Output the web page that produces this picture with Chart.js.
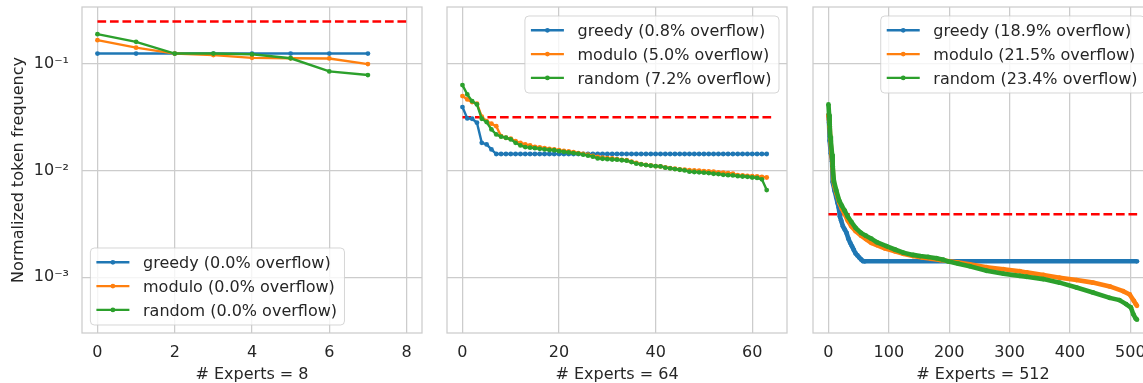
<!DOCTYPE html>
<html>
<head>
<meta charset="utf-8">
<script src="https://cdn.jsdelivr.net/npm/chart.js@4.4.1/dist/chart.umd.min.js"></script>
<style>
  html, body { margin: 0; padding: 0; background: #fff; overflow: hidden; }
  body { width: 1143px; height: 383px; position: relative; }
  canvas { position: absolute; top: 0; }
</style>
</head>
<body>
<canvas id="p8" width="426" height="383" style="left:0px"></canvas>
<canvas id="p64" width="354" height="383" style="left:437px"></canvas>
<canvas id="p512" width="354" height="383" style="left:803px"></canvas>
<script>
// shared log axis
const yMin = 3.04e-4;
const yMax = 0.3416;
const yTickValues = [0.001, 0.01, 0.1];
const yTickLabels = ['10⁻³', '10⁻²', '10⁻¹'];

// 8 experts
const xTicks8 = [0, 2, 4, 6, 8];
const capacity8 = 0.25;
const greedy8 = [0.125, 0.125, 0.125, 0.125, 0.125, 0.125, 0.125, 0.125];
const modulo8 = [0.167, 0.142, 0.125, 0.121, 0.114, 0.113, 0.1125, 0.0996];
const random8 = [0.190, 0.161, 0.125, 0.125, 0.123, 0.113, 0.085, 0.0786];
const names8 = ['greedy (0.0% overflow)', 'modulo (0.0% overflow)', 'random (0.0% overflow)'];

// 64 experts
const xTicks64 = [0, 20, 40, 60];
const capacity64 = 0.0316;
const greedy64 = [0.0394, 0.0308, 0.0306, 0.0281, 0.0182, 0.0176, 0.0158, 0.0143,
  0.0143, 0.0143, 0.0143, 0.0143, 0.0143, 0.0143, 0.0143, 0.0143,
  0.0143, 0.0143, 0.0143, 0.0143, 0.0143, 0.0143, 0.0143, 0.0143,
  0.0143, 0.0143, 0.0143, 0.0143, 0.0143, 0.0143, 0.0143, 0.0143,
  0.0143, 0.0143, 0.0143, 0.0143, 0.0143, 0.0143, 0.0143, 0.0143,
  0.0143, 0.0143, 0.0143, 0.0143, 0.0143, 0.0143, 0.0143, 0.0143,
  0.0143, 0.0143, 0.0143, 0.0143, 0.0143, 0.0143, 0.0143, 0.0143,
  0.0143, 0.0143, 0.0143, 0.0143, 0.0143, 0.0143, 0.0143, 0.0143];
const modulo64 = [0.0499, 0.0465, 0.0439, 0.0424, 0.0320, 0.0291, 0.0275, 0.0261,
  0.0210, 0.0203, 0.0199, 0.0189, 0.0182, 0.0176, 0.0172, 0.0167,
  0.0165, 0.0162, 0.0160, 0.0158, 0.01556, 0.0153, 0.0151, 0.0149,
  0.0146, 0.01435, 0.0141, 0.0137, 0.0134, 0.0132, 0.0131, 0.0130,
  0.0128, 0.0126, 0.0125, 0.0121, 0.0118, 0.0115, 0.0113, 0.0112,
  0.0110, 0.01094, 0.0107, 0.01056, 0.0104, 0.01025, 0.0102, 0.0101,
  0.01004, 0.00997, 0.0099, 0.00984, 0.00977, 0.00963, 0.00955, 0.00948,
  0.00934, 0.00906, 0.0090, 0.00893, 0.00886, 0.0088, 0.00874, 0.00861];
const random64 = [0.0633, 0.0518, 0.0448, 0.0417, 0.0306, 0.0285, 0.0243, 0.0218,
  0.0208, 0.0203, 0.0196, 0.0182, 0.0172, 0.0166, 0.0164, 0.0162,
  0.0160, 0.0158, 0.0156, 0.0155, 0.0152, 0.0150, 0.0148, 0.0146,
  0.0144, 0.0141, 0.0138, 0.0135, 0.0130, 0.0129, 0.0128, 0.0127,
  0.01264, 0.0125, 0.01237, 0.0120, 0.0116, 0.01143, 0.01126, 0.0111,
  0.0110, 0.01094, 0.01064, 0.01048, 0.01033, 0.01018, 0.01004, 0.00977,
  0.0097, 0.00963, 0.00955, 0.00948, 0.00934, 0.00927, 0.00913, 0.00906,
  0.0090, 0.00886, 0.0088, 0.00874, 0.00861, 0.00854, 0.00828, 0.00656];
const names64 = ['greedy (0.8% overflow)', 'modulo (5.0% overflow)', 'random (7.2% overflow)'];

// 512 experts, read at sampled expert indices
const xTicks512 = [0, 100, 200, 300, 400, 500];
const capacity512 = 0.0039;
const greedy512Idx = [0, 1, 2, 4, 6, 7, 8, 10, 13, 15, 17, 19, 21, 24, 27, 30, 33, 36, 39, 42, 45, 48, 51, 54, 57, 60, 511];
const greedy512 = [0.033, 0.028, 0.019, 0.0145, 0.0122, 0.0078, 0.0074, 0.0065, 0.0056, 0.0050, 0.0045, 0.0037, 0.0034,
  0.0030, 0.0028, 0.0026, 0.0023, 0.0021, 0.00195, 0.0018, 0.00167, 0.0016, 0.00153, 0.00147, 0.00142, 0.00141, 0.00141];
const modulo512Idx = [0, 1, 2, 3, 5, 7, 8, 10, 13, 18, 22, 27, 32, 38, 45, 54, 62, 71, 80, 93, 110, 124, 140, 155, 170,
  185, 200, 215, 234, 262, 290, 317, 328, 356, 383, 411, 438, 466, 488, 499, 506, 509, 511];
const modulo512 = [0.033, 0.030, 0.026, 0.020, 0.0145, 0.0108, 0.0082, 0.0072, 0.0062, 0.0050, 0.0044, 0.0039, 0.0034,
  0.0030, 0.0027, 0.00245, 0.00228, 0.0021, 0.0020, 0.00187, 0.00175, 0.00166, 0.00158, 0.00153, 0.00149,
  0.00145, 0.00141, 0.00137, 0.00132, 0.00124, 0.00119, 0.00114, 0.00111, 0.00105, 0.00099, 0.00094, 0.00089,
  0.00082, 0.00074, 0.00069, 0.0006, 0.00056, 0.00054];
const random512Idx = [0, 1, 2, 3, 4, 6, 7, 9, 13, 18, 22, 27, 32, 38, 45, 54, 62, 71, 80, 96, 110, 124, 140, 152, 165,
  179, 190, 198, 215, 234, 262, 290, 317, 328, 356, 383, 411, 438, 466, 482, 493, 501, 505, 509, 511];
const random512 = [0.0417, 0.0336, 0.0271, 0.021, 0.0189, 0.0142, 0.011, 0.008, 0.0065, 0.0052, 0.0047, 0.0042, 0.0037,
  0.0033, 0.0029, 0.0026, 0.00245, 0.0023, 0.00213, 0.00196, 0.00182, 0.0017, 0.00162, 0.00158, 0.00155,
  0.00151, 0.00146, 0.00141, 0.00134, 0.00127, 0.00115, 0.00108, 0.00103, 0.00101, 0.00096, 0.00089, 0.0008,
  0.00072, 0.00064, 0.00061, 0.00056, 0.00052, 0.00045, 0.00041, 0.0004];
const names512 = ['greedy (18.9% overflow)', 'modulo (21.5% overflow)', 'random (23.4% overflow)'];

const BLUE = '#1f77b4', ORANGE = '#ff7f0e', GREEN = '#2ca02c', RED = '#ff0000';
const GRID = '#cccccc';
const TEXT = '#262626';
const FONT = "'DejaVu Sans', sans-serif";

Chart.defaults.font.family = FONT;
Chart.defaults.color = TEXT;

// light grey box around the plot area
const frame = {
  id: 'frame',
  beforeDatasetsDraw(chart) {
    const { ctx, chartArea: a } = chart;
    ctx.save();
    ctx.strokeStyle = GRID;
    ctx.lineWidth = 1.25;
    ctx.strokeRect(a.left, a.top, a.right - a.left, a.bottom - a.top);
    ctx.restore();
  }
};

// legend box drawn inside the plot area
const boxLegend = {
  id: 'boxLegend',
  afterDatasetsDraw(chart, args, opts) {
    const { ctx, chartArea: a } = chart;
    const items = chart.data.datasets.filter(d => d.label);
    ctx.save();
    ctx.font = '16px ' + FONT;
    const textW = Math.max(...items.map(d => ctx.measureText(d.label).width));
    const w = 52.6 + textW + 7.5, h = 77;
    const x = opts.corner === 'lowerLeft' ? a.left + 8.4 : a.right - 8 - w;
    const y = opts.corner === 'lowerLeft' ? a.bottom - 8 - h : a.top + 9;
    ctx.beginPath();
    ctx.roundRect(x, y, w, h, 4);
    ctx.fillStyle = 'rgba(255,255,255,0.8)';
    ctx.fill();
    ctx.strokeStyle = 'rgba(204,204,204,0.8)';
    ctx.lineWidth = 1;
    ctx.stroke();
    items.forEach((d, k) => {
      const ry = y + 14.3 + k * 23.8;
      ctx.strokeStyle = d.borderColor;
      ctx.lineWidth = 2.4;
      ctx.beginPath();
      ctx.moveTo(x + 6, ry);
      ctx.lineTo(x + 39, ry);
      ctx.stroke();
      ctx.fillStyle = d.borderColor;
      ctx.beginPath();
      ctx.arc(x + 22.5, ry, 2.4, 0, Math.PI * 2);
      ctx.fill();
      ctx.fillStyle = TEXT;
      ctx.textBaseline = 'middle';
      ctx.fillText(d.label, x + 52.6, ry + 1.5);
    });
    ctx.restore();
  }
};

function series(label, color, points, order, width) {
  return {
    label, data: points, order,
    borderColor: color, backgroundColor: color,
    borderWidth: width, pointRadius: 2.4, pointBorderWidth: 0,
    pointBackgroundColor: color
  };
}

function capacityLine(value, n) {
  return {
    data: [{ x: 0, y: value }, { x: n, y: value }], order: 4,
    borderColor: RED, borderWidth: 2.4, borderDash: [8.7, 3.8], pointRadius: 0
  };
}

const byIndex = vals => vals.map((y, x) => ({ x, y }));
const byPairs = (idx, vals) => idx.map((x, k) => ({ x, y: vals[k] }));

function makePanel(id, cfg) {
  new Chart(document.getElementById(id), {
    type: 'line',
    data: { datasets: cfg.datasets },
    plugins: [frame, boxLegend],
    options: {
      responsive: false,
      animation: false,
      events: [],
      layout: { padding: { top: 7, right: 4, bottom: 0, left: 0 } },
      plugins: {
        legend: { display: false },
        tooltip: { enabled: false },
        boxLegend: { corner: cfg.corner }
      },
      scales: {
        x: {
          type: 'linear', min: cfg.xMin, max: cfg.xMax,
          afterBuildTicks: s => { s.ticks = cfg.xTicks.map(v => ({ value: v })); },
          afterFit: s => { s.height = 50; s.paddingLeft = 0; s.paddingRight = 0; },
          border: { display: false },
          grid: { color: GRID, lineWidth: 1.25, drawTicks: false },
          ticks: { font: { size: 16 }, color: TEXT, padding: 10, maxRotation: 0, autoSkip: false,
                   callback: v => String(v) },
          title: { display: true, text: cfg.xTitle, color: TEXT,
                   font: { size: 16, lineHeight: 1.0 }, padding: { top: 0, bottom: 0 } }
        },
        y: {
          type: 'logarithmic', min: yMin, max: yMax,
          afterBuildTicks: s => { s.ticks = yTickValues.map(v => ({ value: v })); },
          afterFit: s => { s.width = cfg.yWidth; s.paddingTop = 0; s.paddingBottom = 0; },
          border: { display: false },
          grid: { color: GRID, lineWidth: 1.25, drawTicks: false },
          ticks: { display: cfg.yLabels, font: { size: 16 }, color: TEXT, padding: 13,
                   autoSkip: false, callback: (v, i) => yTickLabels[i] },
          title: { display: cfg.yLabels, text: 'Normalized token frequency', color: TEXT,
                   font: { size: 16, lineHeight: 1.0 }, padding: { top: 10.6, bottom: 0 } }
        }
      }
    }
  });
}

makePanel('p8', {
  xMin: -0.4, xMax: 8.4, xTicks: xTicks8, xTitle: '# Experts = 8',
  yWidth: 82, yLabels: true, corner: 'lowerLeft',
  datasets: [
    series(names8[0], BLUE, byIndex(greedy8), 3, 2.4),
    series(names8[1], ORANGE, byIndex(modulo8), 2, 2.4),
    series(names8[2], GREEN, byIndex(random8), 1, 2.4),
    capacityLine(capacity8, 8)
  ]
});

makePanel('p64', {
  xMin: -3.2, xMax: 67.2, xTicks: xTicks64, xTitle: '# Experts = 64',
  yWidth: 10, yLabels: false, corner: 'upperRight',
  datasets: [
    series(names64[0], BLUE, byIndex(greedy64), 3, 2.4),
    series(names64[1], ORANGE, byIndex(modulo64), 2, 2.4),
    series(names64[2], GREEN, byIndex(random64), 1, 2.4),
    capacityLine(capacity64, 64)
  ]
});

makePanel('p512', {
  xMin: -25.6, xMax: 537.6, xTicks: xTicks512, xTitle: '# Experts = 512',
  yWidth: 10, yLabels: false, corner: 'upperRight',
  datasets: [
    series(names512[0], BLUE, byPairs(greedy512Idx, greedy512), 3, 4.6),
    series(names512[1], ORANGE, byPairs(modulo512Idx, modulo512), 2, 4.6),
    series(names512[2], GREEN, byPairs(random512Idx, random512), 1, 4.6),
    capacityLine(capacity512, 512)
  ]
});
</script>
</body>
</html>
